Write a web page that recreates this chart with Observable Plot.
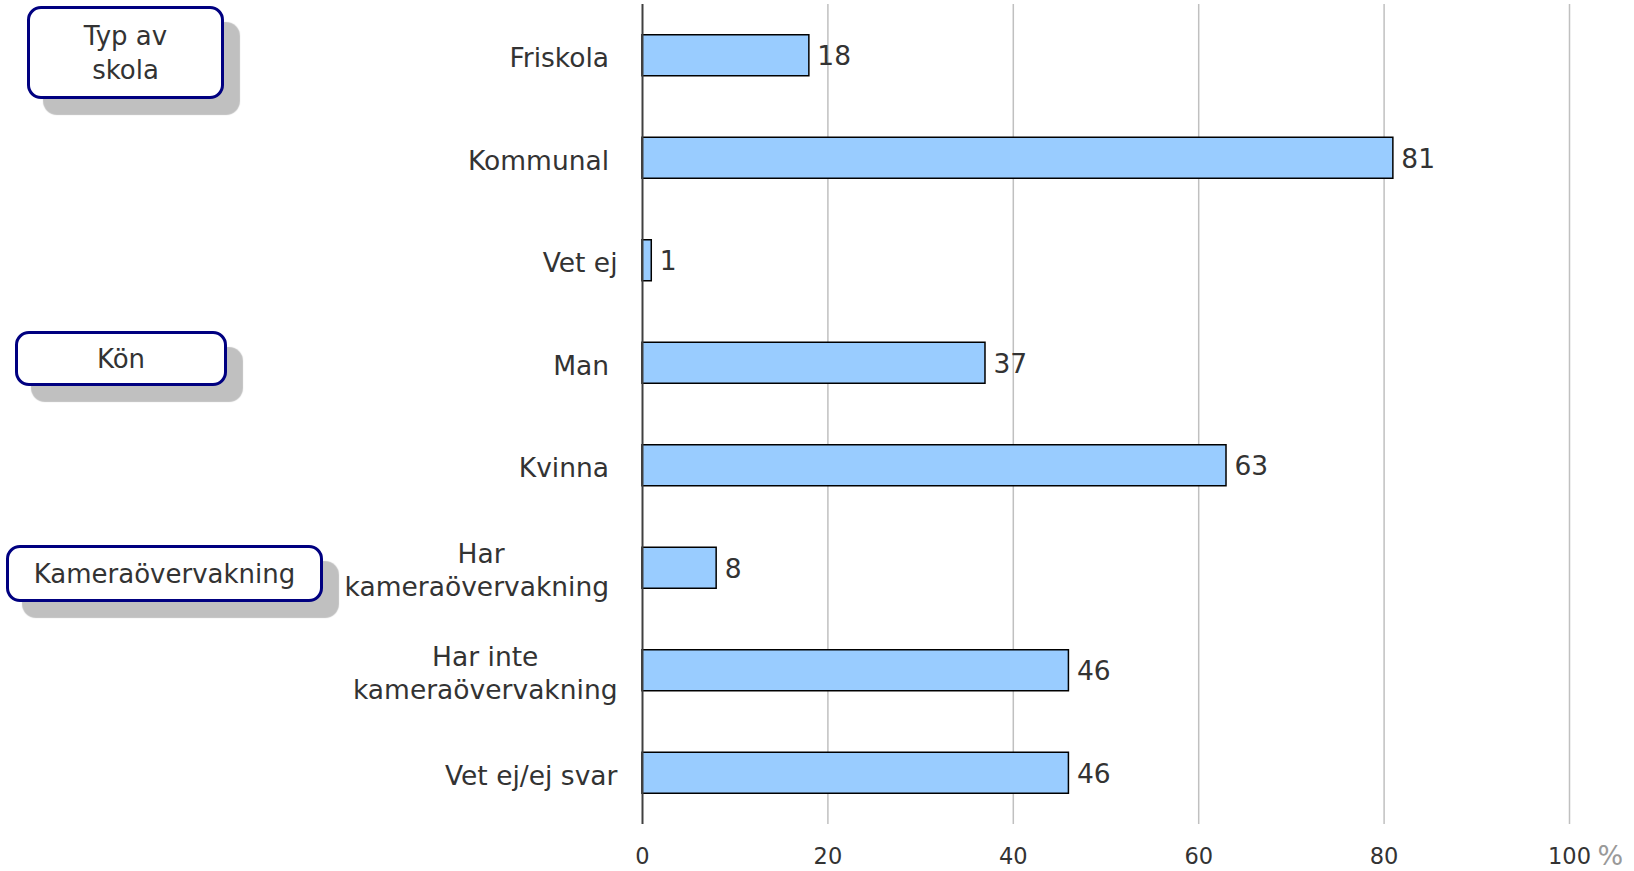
<!DOCTYPE html>
<html><head><meta charset="utf-8">
<script src="https://cdn.jsdelivr.net/npm/d3@7"></script>
<script src="https://cdn.jsdelivr.net/npm/@observablehq/plot@0.6"></script>
<style>
body{margin:0;background:#fff;}
#wrap{position:relative;width:1634px;height:871px;font-family:"DejaVu Sans",Verdana,sans-serif;}
#wrap svg text{white-space:pre;}
.box{position:absolute;box-sizing:border-box;border:3px solid #000080;border-radius:14px;background:#fff;
  box-shadow:16px 16px 1px #c0c0c0;display:flex;align-items:center;justify-content:center;text-align:center;
  color:#333;font-size:26px;line-height:34px;white-space:pre-line;}
</style></head><body><div id="wrap"></div>
<script>
// Data
const categories = ["Friskola ", "Kommunal ", "Vet ej", "Man ", "Kvinna ", "Har\nkameraövervakning ", "Har inte\nkameraövervakning", "Vet ej/ej svar"];
const values = [18, 81, 1, 37, 63, 8, 46, 46];
const xTicks = [0, 20, 40, 60, 80, 100];
const gridTicks = [20, 40, 60, 80, 100];
const groupLabels = ["Typ av\nskola", "Kön", "Kameraövervakning"];
const unitLabel = "%";

const data = categories.map((c, i) => ({cat: c, value: values[i]}));

const plot = Plot.plot({
  width: 1634, height: 871,
  marginLeft: 642, marginRight: 65, marginTop: 4, marginBottom: 47,
  style: {fontFamily: "'DejaVu Sans', Verdana, sans-serif", color: "#333", background: "#fff"},
  x: {domain: [0, 100]},
  y: {domain: categories, paddingInner: 0.6, paddingOuter: 0.3, round: false, axis: null},
  marks: [
    Plot.ruleX(gridTicks, {stroke: "#c0c0c0", strokeWidth: 1.5}),
    Plot.barX(data, {x: "value", y: "cat", fill: "#99ccff", stroke: "#000", strokeWidth: 1.5}),
    Plot.ruleX([0], {stroke: "#404040", strokeWidth: 2}),
    Plot.axisX(xTicks, {tickSize: 0, tickPadding: 24, fontSize: 22.5, label: null}),
    Plot.text([100], {x: d => d, text: () => unitLabel, frameAnchor: "bottom", textAnchor: "start",
      lineAnchor: "middle", dx: 28, dy: 32, fontSize: 27, fill: "#999"}),
    Plot.text(data, {x: "value", y: "cat", text: d => String(d.value), textAnchor: "start",
      dx: 8, dy: 1, fontSize: 26.5, fill: "#333"}),
    Plot.text(data, {y: "cat", text: "cat", frameAnchor: "left", textAnchor: "end",
      dx: -25, dy: 1, fontSize: 26.5, lineHeight: 1.25, fill: "#333"})
  ]
});

const wrap = document.getElementById("wrap");
wrap.append(plot);

// center multi-line category labels
d3.select(plot).selectAll("text").each(function() {
  const ts = Array.from(this.querySelectorAll("tspan"));
  if (ts.length > 1) {
    const w = d3.max(ts, t => t.getComputedTextLength());
    this.setAttribute("text-anchor", "middle");
    ts.forEach(t => t.setAttribute("x", -w / 2));
  }
});

// group annotation boxes
const boxes = [
  {left: 27, top: 6, width: 197, height: 93},
  {left: 15, top: 331, width: 212, height: 55},
  {left: 6, top: 545, width: 317, height: 57}
];
groupLabels.forEach((lab, i) => {
  const b = boxes[i];
  const div = document.createElement("div");
  div.className = "box";
  div.style.left = b.left + "px";
  div.style.top = b.top + "px";
  div.style.width = b.width + "px";
  div.style.height = b.height + "px";
  div.textContent = lab;
  wrap.append(div);
});
</script>
</body></html>
